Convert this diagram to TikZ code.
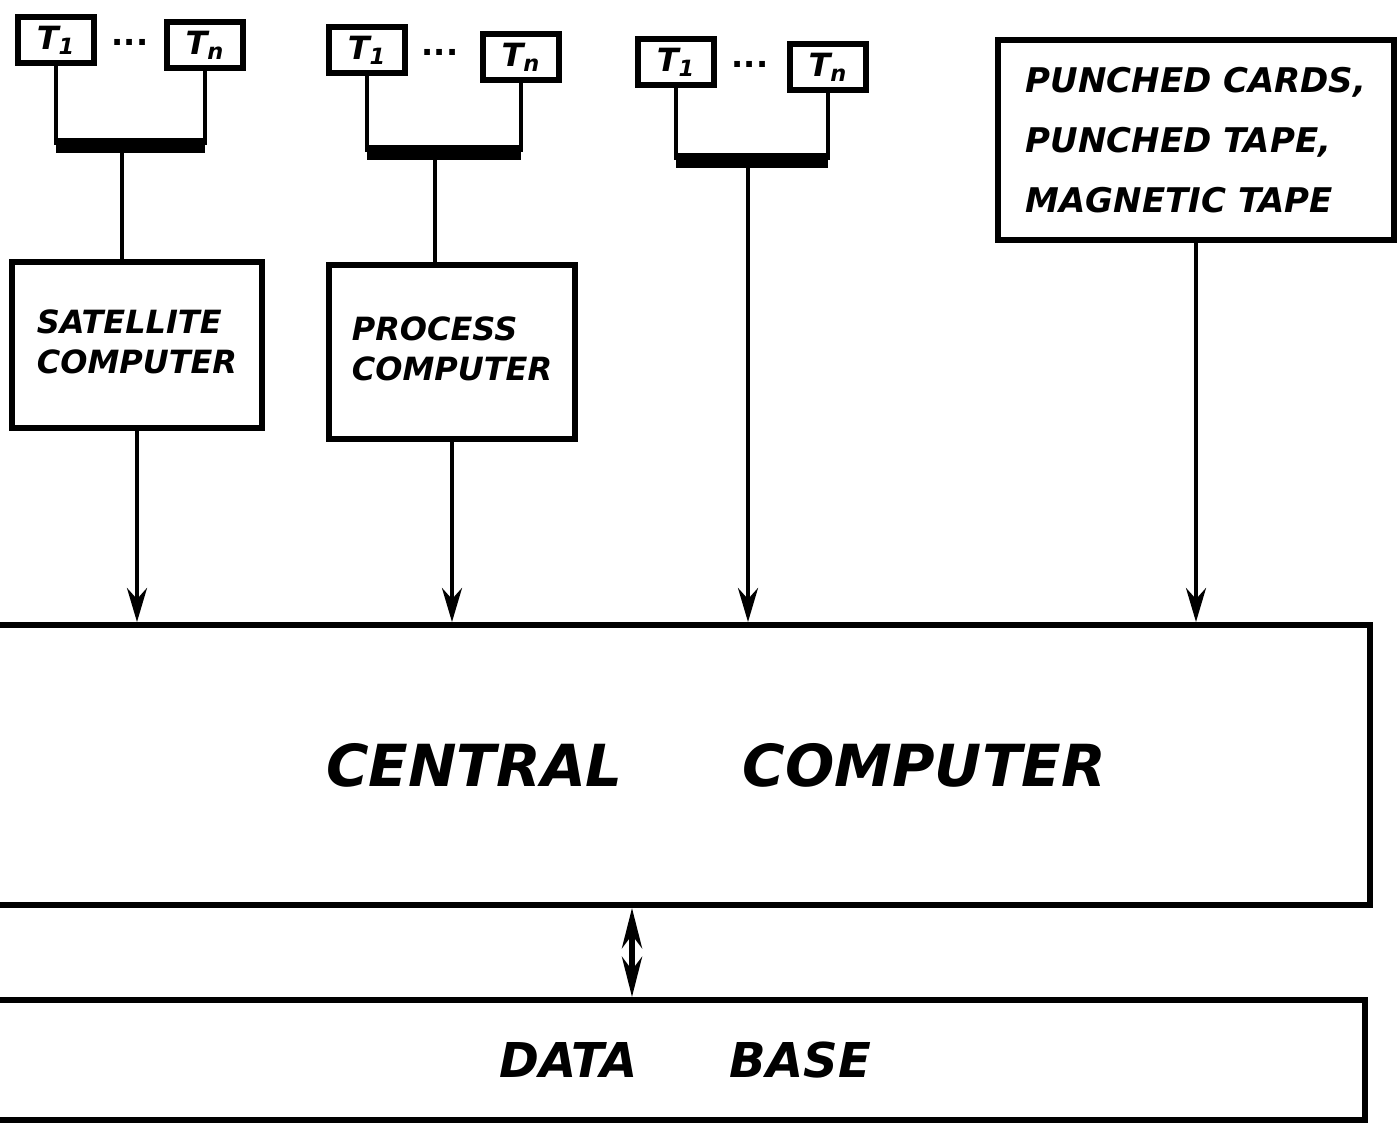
\documentclass[tikz,border=0pt]{standalone}
\usepackage{fontspec}
\setmainfont{DejaVu Sans}
\usetikzlibrary{arrows.meta}
\begin{document}
\begin{tikzpicture}[x=0.5pt,y=-0.5pt,
  hand/.style={font=\bfseries\itshape},
  box/.style={draw, line width=3pt, inner sep=0pt, hand},
  term/.style={draw, line width=2.8pt, minimum width=38pt, minimum height=23pt, inner sep=0pt, font=\bfseries\itshape\fontsize{16}{16}\selectfont},
  dots/.style={font=\bfseries\fontsize{16}{16}\selectfont},
  wire/.style={line width=2pt},
  bar/.style={line width=7.5pt},
  arr/.style={line width=2pt, -{Stealth[length=17pt,width=10pt]}},
  darr/.style={line width=3pt, {Stealth[length=20pt,width=10pt]}-{Stealth[length=20pt,width=10pt]}}]
\useasboundingbox (0,0) rectangle (1398,1137);

% terminals, group 1
\node[term] (a1) at (56,40) {T\textsubscript{1}};
\node[term] (an) at (205,45) {T\textsubscript{n}};
\node[dots] (ad) at (130,42) {...};
\coordinate (abar) at (122,145);
% group 2
\node[term] (b1) at (367,50) {T\textsubscript{1}};
\node[term] (bn) at (521,57) {T\textsubscript{n}};
\node[dots] (bd) at (440,52) {...};
\coordinate (bbar) at (435,152);
% group 3
\node[term] (c1) at (676,62) {T\textsubscript{1}};
\node[term] (cn) at (828,67) {T\textsubscript{n}};
\node[dots] (cd) at (750,64) {...};
\coordinate (cbar) at (748,160);

% boxes
\node[box, minimum width=125pt, minimum height=83pt] (sat) at (137,345)
  {\fontsize{16}{20}\selectfont\begin{tabular}{@{}l@{}}SATELLITE\\COMPUTER\end{tabular}};
\node[box, minimum width=123pt, minimum height=87pt] (proc) at (452,352)
  {\fontsize{16}{20}\selectfont\begin{tabular}{@{}l@{}}PROCESS\\COMPUTER\end{tabular}};
\node[box, minimum width=198pt, minimum height=100pt] (pc) at (1196,140)
  {\fontsize{17}{30}\selectfont\begin{tabular}{@{}l@{}}PUNCHED CARDS,\\PUNCHED TAPE,\\MAGNETIC TAPE\end{tabular}};
\node[box, minimum width=690pt, minimum height=140pt] (cc) at (680,765)
  {\fontsize{29}{29}\selectfont\hspace*{36pt}CENTRAL\hspace{60pt}COMPUTER};
\node[box, minimum width=688pt, minimum height=60pt] (db) at (677,1060)
  {\fontsize{24}{24}\selectfont\hspace*{8pt}DATA\hspace{46pt}BASE};

% group wiring
\draw[wire] (a1.south) -- (a1.south |- abar);
\draw[wire] (an.south) -- (an.south |- abar);
\draw[bar] (a1.south |- abar) -- (an.south |- abar);
\draw[wire] (abar) -- (abar |- sat.north);

\draw[wire] (b1.south) -- (b1.south |- bbar);
\draw[wire] (bn.south) -- (bn.south |- bbar);
\draw[bar] (b1.south |- bbar) -- (bn.south |- bbar);
\draw[wire] (bbar) -- (bbar |- proc.north);

\draw[wire] (c1.south) -- (c1.south |- cbar);
\draw[wire] (cn.south) -- (cn.south |- cbar);
\draw[bar] (c1.south |- cbar) -- (cn.south |- cbar);

% arrows to central computer
\draw[arr] (sat.south) -- (sat.south |- cc.north);
\draw[arr] (proc.south) -- (proc.south |- cc.north);
\draw[arr] (cbar) -- (cbar |- cc.north);
\draw[arr] (pc.south) -- (pc.south |- cc.north);

% central computer <-> data base
\coordinate (dx) at (632,0);
\draw[darr] (dx |- cc.south) -- (dx |- db.north);
\end{tikzpicture}
\end{document}
